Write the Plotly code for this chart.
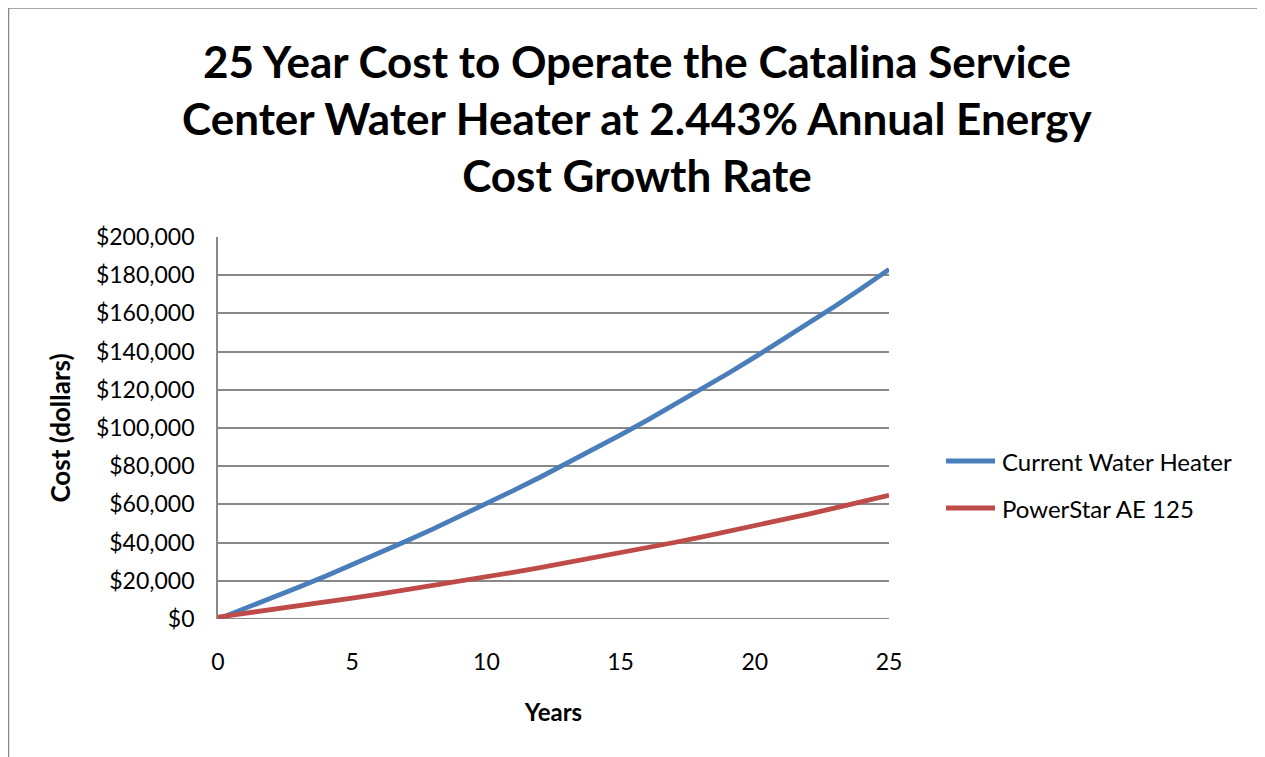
import plotly.graph_objects as go

years = list(range(0, 26))
current_heater = [0, 5400, 10930, 16590, 22400, 28350, 34440, 40680, 47070, 53620,
                  60330, 67200, 74220, 81420, 88800, 96370, 104100, 112050, 120200,
                  128550, 137100, 145800, 154750, 163900, 173350, 183050]
powerstar = [1000, 2880, 4810, 6780, 8810, 10880, 13000, 15180, 17410, 19690,
             22020, 24410, 26860, 29380, 31960, 34590, 37280, 40050, 42890, 45790,
             48770, 51810, 54940, 58140, 61410, 64800]
series_names = ["Current Water Heater", "PowerStar AE 125"]
series_colors = ["#4a7ebb", "#be4b48"]
y_ticks = list(range(0, 200001, 20000))
y_tick_labels = ["${:,}".format(v) for v in y_ticks]
x_ticks = [0, 5, 10, 15, 20, 25]

FONT = "Lato"
OFF = 8  # page body margin
W, H = 1265 - OFF, 757 - OFF
L, T = 218 - OFF, 237 - OFF
PW, PH = 671, 382


def px(x):  # page pixel x -> paper
    return (x - 218) / PW


def py(y):  # page pixel y -> paper
    return (619 - y) / PH


fig = go.Figure()
for name, vals, col in zip(series_names, [current_heater, powerstar], series_colors):
    fig.add_trace(go.Scatter(x=years, y=vals, mode="lines", name=name,
                             line=dict(color=col, width=4.8), showlegend=False))

grid = "#888888"
shapes = [
    dict(type="line", xref="paper", yref="paper", x0=px(0), x1=px(1300),
         y0=py(8), y1=py(8), line=dict(color=grid, width=1.5)),
    dict(type="line", xref="paper", yref="paper", x0=px(8.5), x1=px(8.5),
         y0=py(8), y1=py(770), line=dict(color=grid, width=1.5)),
    dict(type="line", xref="paper", yref="y", x0=0, x1=1, y0=0, y1=0,
         line=dict(color=grid, width=1.8), layer="below"),
]
annotations = [dict(
    text="<b>25 Year Cost to Operate the Catalina Service<br>Center Water Heater at 2.443% Annual Energy<br>Cost Growth Rate</b>",
    xref="paper", yref="paper", x=px(637), y=py(118),
    xanchor="center", yanchor="middle", showarrow=False,
    font=dict(size=44, family=FONT, color="black"))]

legend_y = [461, 508]
for name, col, ly in zip(series_names, series_colors, legend_y):
    shapes.append(dict(type="line", xref="paper", yref="paper", x0=px(946), x1=px(995),
                       y0=py(ly), y1=py(ly), line=dict(color=col, width=5)))
    annotations.append(dict(text=name, xref="paper", yref="paper", x=px(1000), y=py(ly),
                            xanchor="left", yanchor="middle", showarrow=False,
                            font=dict(size=24, family=FONT, color="black")))

fig.update_layout(
    width=W, height=H,
    paper_bgcolor="white", plot_bgcolor="white",
    margin=dict(l=L, r=W - L - PW, t=T, b=H - T - PH),
    font=dict(family=FONT, color="black"),
    showlegend=False,
    xaxis=dict(range=[0, 25], tickvals=x_ticks, showgrid=False, zeroline=False,
               showline=False, ticks="", tickfont=dict(size=23), ticklabelstandoff=27,
               title=dict(text="<b>Years</b>", font=dict(size=24), standoff=30)),
    yaxis=dict(range=[0, 200000], tickvals=y_ticks, ticktext=y_tick_labels,
               showgrid=True, gridcolor=grid, gridwidth=1.8, zeroline=False,
               showline=True, linecolor=grid, linewidth=1.8, ticks="",
               tickfont=dict(size=23), ticklabelstandoff=17,
               title=dict(text="<b>Cost (dollars)</b>", font=dict(size=26), standoff=18)),
    annotations=annotations,
    shapes=shapes,
)
fig.write_html("out.html")
